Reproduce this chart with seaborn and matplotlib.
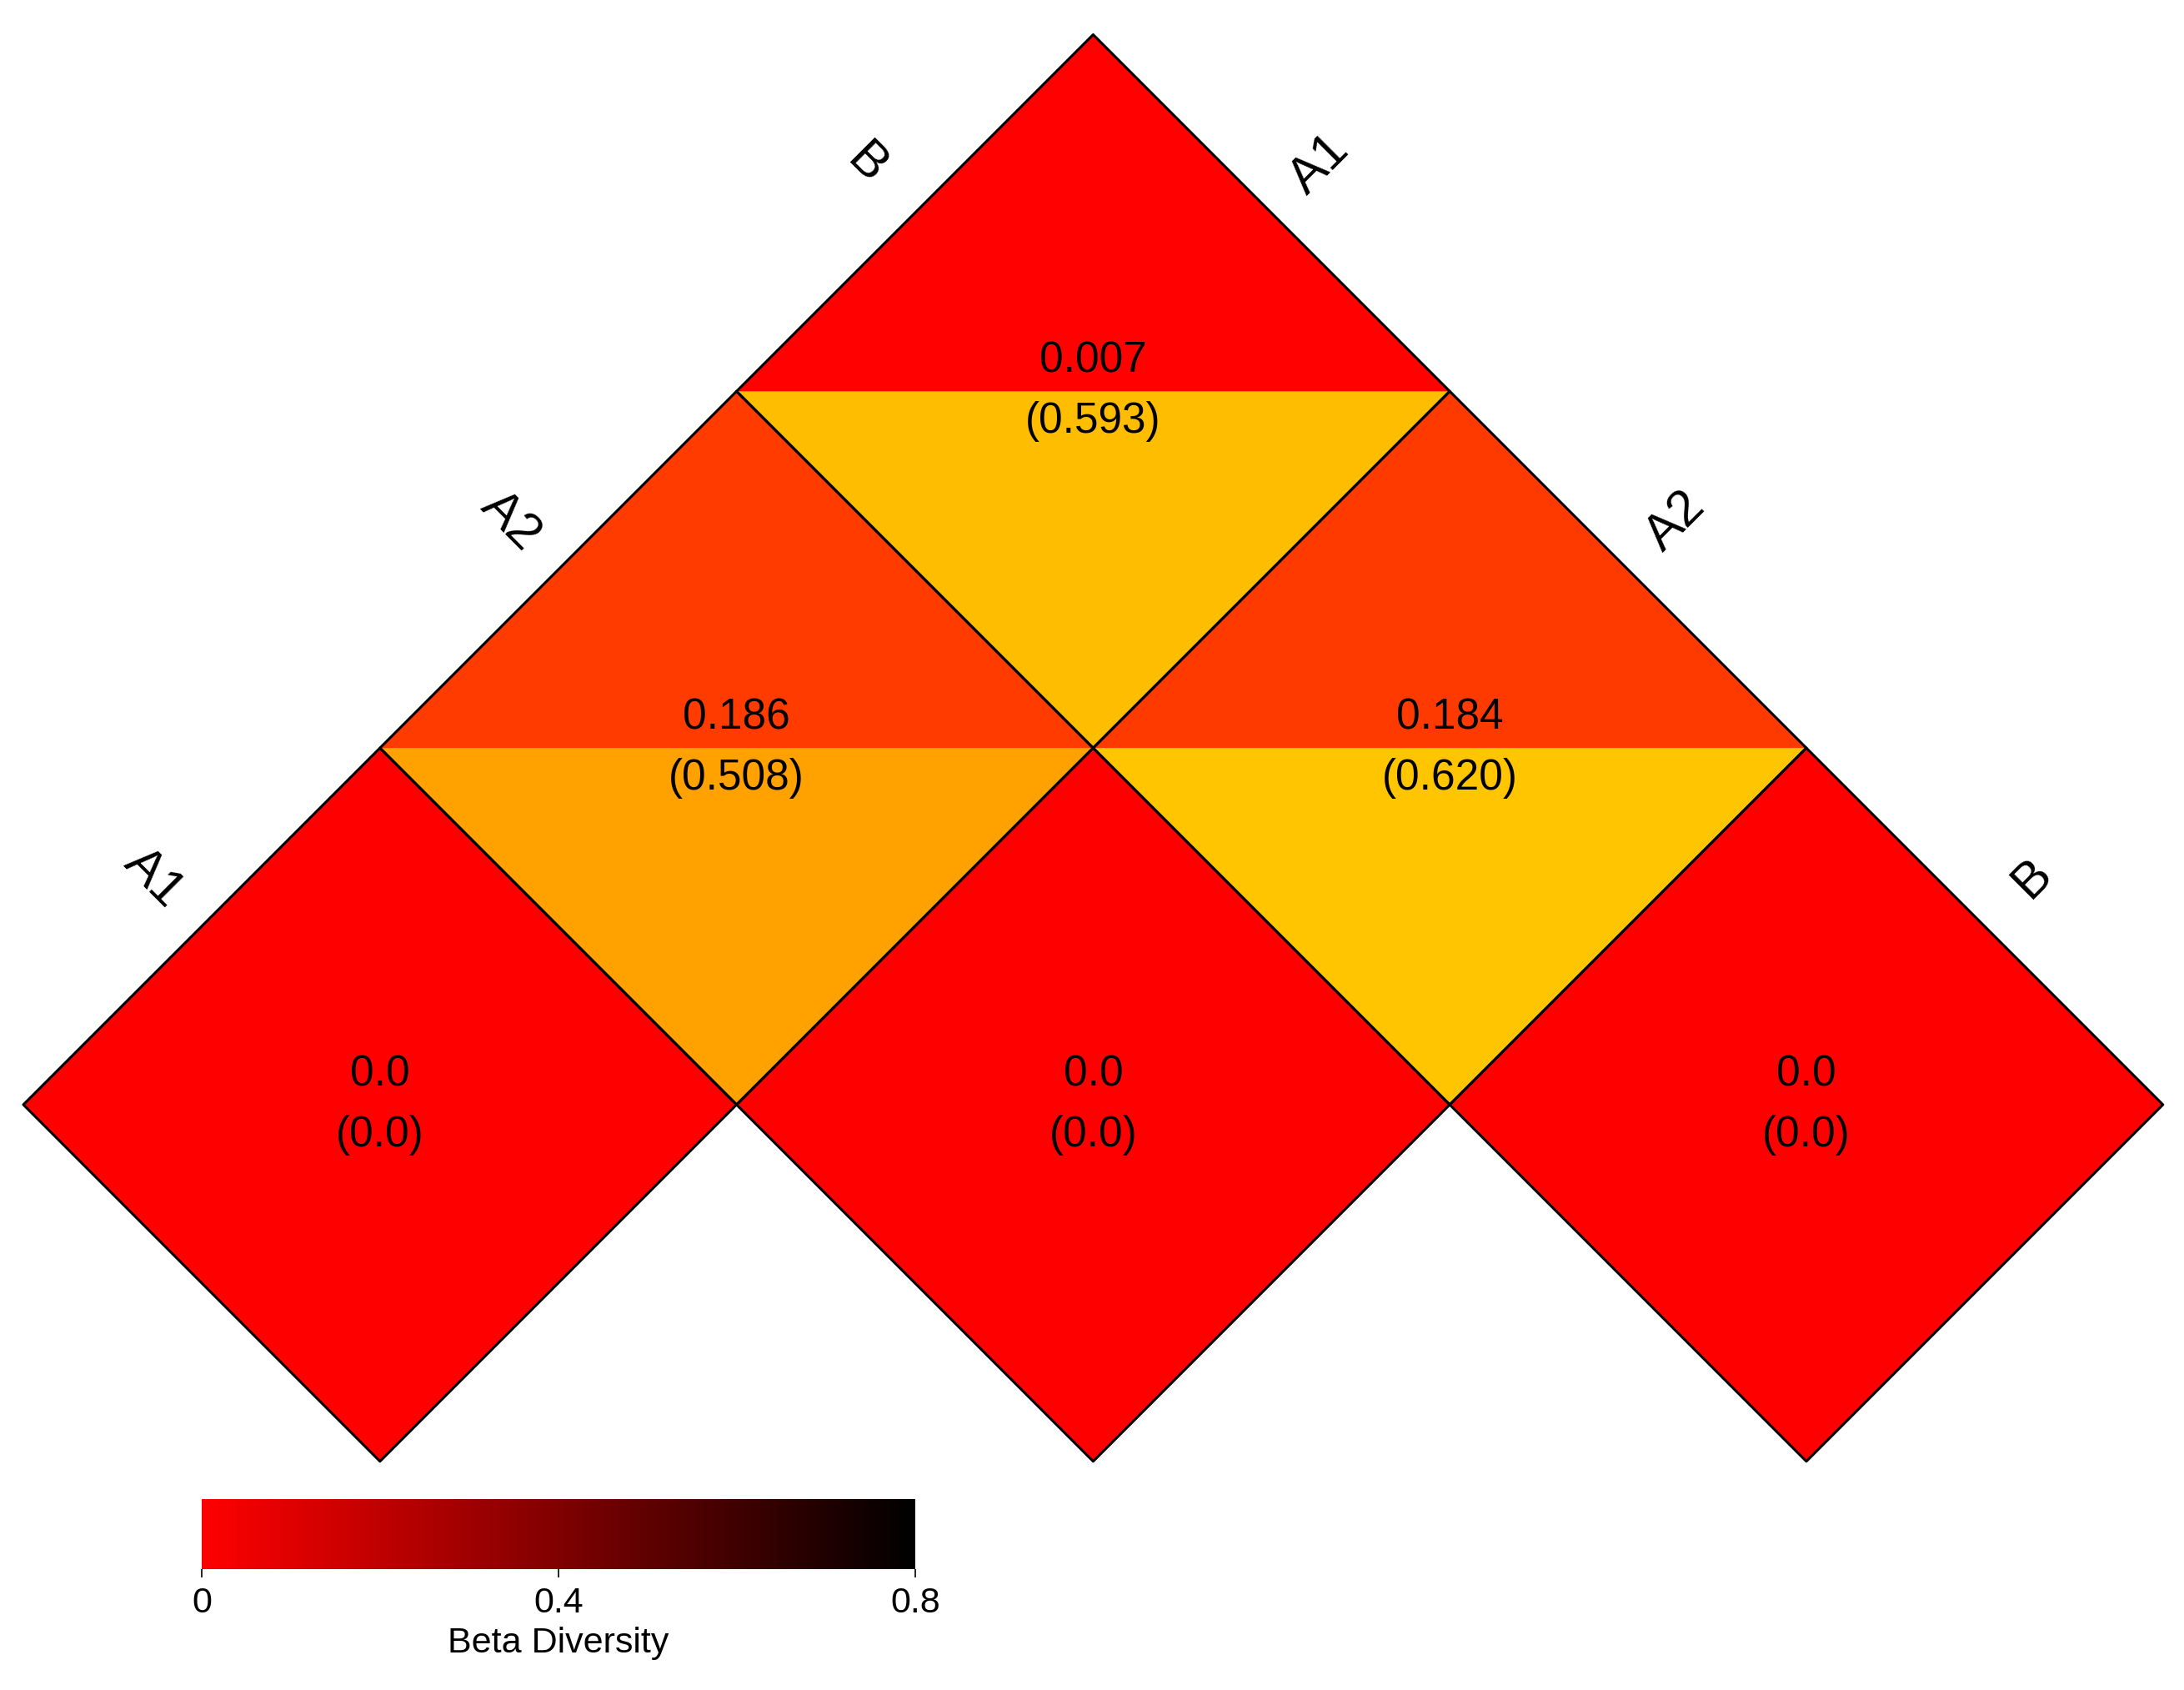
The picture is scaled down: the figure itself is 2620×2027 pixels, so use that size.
import numpy as np
import pandas as pd
import matplotlib
matplotlib.use("Agg")
import matplotlib.pyplot as plt
import seaborn as sns
from matplotlib.colors import LinearSegmentedColormap, Normalize
from matplotlib.collections import PolyCollection
from matplotlib.transforms import Affine2D
from matplotlib.cm import ScalarMappable

# data
groups = ["A1", "A2", "B"]
beta_upper = [[0.0, 0.186, 0.007],
              [np.nan, 0.0, 0.184],
              [np.nan, np.nan, 0.0]]
beta_lower = [[0.0, 0.508, 0.593],
              [np.nan, 0.0, 0.620],
              [np.nan, np.nan, 0.0]]
cbar_ticks = [0, 0.4, 0.8]
cbar_ticklabels = ["0", "0.4", "0.8"]

sns.set_style("white")
plt.rcParams["font.family"] = ["Liberation Sans Narrow", "Liberation Sans", "DejaVu Sans"]
plt.rcParams["text.color"] = "black"
plt.rcParams["xtick.color"] = "black"
plt.rcParams["axes.labelcolor"] = "black"

cell_cmap = LinearSegmentedColormap.from_list("red_yellow", ["#FF0000", "#FFFF00"])
bar_cmap = LinearSegmentedColormap.from_list("red_black", ["#FF0000", "#000000"])
norm = Normalize(vmin=0, vmax=0.8)

fig = plt.figure(figsize=(26.2, 20.27), dpi=100)
ax = fig.add_axes([0, 0, 1, 1])

df_up = pd.DataFrame(beta_upper, index=groups, columns=groups)
df_lo = pd.DataFrame(beta_lower, index=groups, columns=groups)

sns.heatmap(df_up, mask=df_up.isna(), cmap=cell_cmap, vmin=0, vmax=0.8,
            cbar=False, xticklabels=False, yticklabels=False, linewidths=0, ax=ax)

# rotate the heatmap grid by 45 degrees: diagonal along the bottom
rot = Affine2D.from_values(1, 1, 1, -1, 0, 0) + ax.transData
ax.collections[0].set_transform(rot)

n = len(groups)
tri_verts, tri_vals, sq_verts = [], [], []
for i in range(n):
    for j in range(n):
        if pd.isna(df_up.iloc[i, j]):
            continue
        tri_verts.append([(j, i), (j, i + 1), (j + 1, i + 1)])
        tri_vals.append(df_lo.iloc[i, j])
        sq_verts.append([(j, i), (j + 1, i), (j + 1, i + 1), (j, i + 1)])

lower = PolyCollection(tri_verts, array=np.array(tri_vals), cmap=cell_cmap, norm=norm,
                       edgecolor="none", transform=rot)
ax.add_collection(lower)
outlines = PolyCollection(sq_verts, facecolor="none", edgecolor="black",
                          linewidth=2.2, transform=rot)
ax.add_collection(outlines)


def fmt(v):
    return "0.0" if v == 0 else f"{v:.3f}"


for i in range(n):
    for j in range(n):
        if pd.isna(df_up.iloc[i, j]):
            continue
        ax.annotate(fmt(df_up.iloc[i, j]), xy=(j + 0.5, i + 0.5), xycoords=rot,
                    xytext=(0, 26), textcoords="offset points",
                    ha="center", va="center", fontsize=37)
        ax.annotate("(" + fmt(df_lo.iloc[i, j]) + ")", xy=(j + 0.5, i + 0.5), xycoords=rot,
                    xytext=(0, -26), textcoords="offset points",
                    ha="center", va="center", fontsize=37)

# edge labels
for k, g in enumerate(groups):
    ax.text(k + 0.5, -0.135, g, transform=rot, rotation=-45,
            ha="center", va="center", fontsize=44, rotation_mode="anchor")
    ax.text(n + 0.135, k + 0.5, g, transform=rot, rotation=45,
            ha="center", va="center", fontsize=44, rotation_mode="anchor")

ax.set_xlim(-0.0655, 6.059)
ax.set_ylim(-1.641, 3.097)
ax.axis("off")

# colour bar
cax = fig.add_axes([0.0924, 0.0715, 0.3267, 0.0414])
cb = fig.colorbar(ScalarMappable(norm=norm, cmap=bar_cmap), cax=cax,
                  orientation="horizontal", ticks=cbar_ticks)
cb.outline.set_visible(False)
cb.ax.set_xticklabels(cbar_ticklabels)
cb.ax.tick_params(length=7, width=1.2, labelsize=31, pad=8, direction="out")
cb.set_label("Beta Diversity", fontsize=31, labelpad=6)

fig.savefig("out.png", dpi=100)
